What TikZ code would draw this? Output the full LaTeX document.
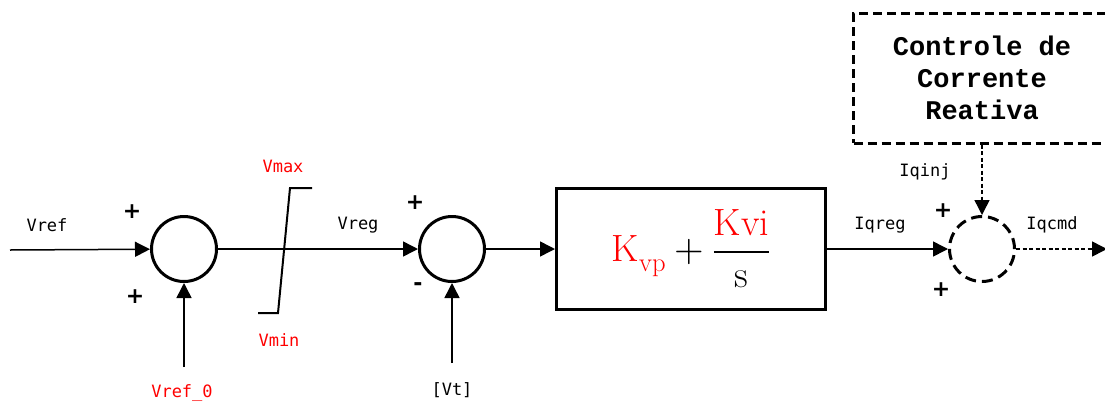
\documentclass[tikz,border=0pt]{standalone}
\usepackage{amsmath}
\usepackage{fontspec}
\usepackage{unicode-math}
\setmonofont{DejaVu Sans Mono}
\newfontfamily\ctlfont{Liberation Mono}
\newfontfamily\signfont{DejaVu Sans}
\usepackage{xcolor}
\usepackage{tikz}
\usetikzlibrary{arrows.meta,positioning,calc}
\definecolor{cRed}{HTML}{FF0000}
\definecolor{cInk}{HTML}{000000}
\tikzset{
  sumnode/.style={circle,draw=cInk,line width=3pt,minimum size=65pt,inner sep=0pt},
  pibox/.style={draw=cInk,line width=3pt,minimum width=269pt,minimum height=121pt,inner sep=0pt},
  ctlbox/.style={draw=cInk,line width=3pt,dash pattern=on 9pt off 5pt,minimum width=257pt,minimum height=130pt,align=center,font=\ctlfont\bfseries\fontsize{27}{32}\selectfont},
  arr/.style={-{Triangle[length=15pt,width=15pt]},line width=1.5pt,color=cInk},
  darr/.style={arr,dash pattern=on 4pt off 2.5pt},
  lbl/.style={font=\ttfamily\fontsize{17}{20}\selectfont,text=cInk,inner sep=0pt},
  rlbl/.style={lbl,text=cRed},
  sgn/.style={font=\signfont\bfseries\fontsize{22}{22}\selectfont,inner sep=0pt},
}

\begin{document}
\begin{tikzpicture}[x=1pt,y=-1pt]
  \useasboundingbox (0,0) rectangle (1105,405);
  % blocos
  \node[sumnode] (sum1) at (184,249) {};
  \node[sumnode] (sum2) at (452,249) {};
  \node[pibox,font=\fontsize{38}{44}\selectfont] (pi) at (691,249) {$\textcolor{cRed}{\mathrm{K}_{\mathrm{vp}}}+\dfrac{\textcolor{cRed}{\mathrm{Kvi}}}{\mathrm{s}}$};
  \node[sumnode,dash pattern=on 11pt off 6pt] (sum3) at (982,249) {};
  \node[ctlbox] (ctl) at (982,78) {Controle de\\Corrente\\Reativa};
  \coordinate (vin) at (10,250);
  \coordinate (v0) at (184,367);
  \coordinate (vt) at (452,363);
  \coordinate (iout) at (1107,249);
  % limitador
  \draw[cInk,line width=2pt] (258,313) -- (278,313) -- (290,188) -- (312,188);
  % ligacoes
  \draw[arr] (vin) -- (sum1);
  \draw[arr] (v0) -- (sum1);
  \draw[arr] (sum1) -- (sum2);
  \draw[arr] (vt) -- (sum2);
  \draw[arr] (sum2) -- (pi);
  \draw[arr] (pi) -- (sum3);
  \draw[darr] (ctl) -- (sum3);
  \draw[darr] (sum3) -- (iout);
  % textos
  \node[lbl] (lvref) at (47,225) {Vref};
  \node[rlbl] (lvref0) at (182,393) {Vref\_0};
  \node[rlbl] (lvmax) at (283,166) {Vmax};
  \node[rlbl] (lvmin) at (279,340) {Vmin};
  \node[lbl] (lvreg) at (358,225) {Vreg};
  \node[lbl] (lvt) at (452,390) {[Vt]};
  \node[lbl] (liqreg) at (880,225) {Iqreg};
  \node[lbl] (liqinj) at (925,172) {Iqinj};
  \node[lbl] (liqcmd) at (1052,225) {Iqcmd};
  \node[sgn] (p1) at (132,212) {+};
  \node[sgn] (p2) at (135,297) {+};
  \node[sgn] (p3) at (415,203) {+};
  \node[sgn] (m3) at (418,287) {-};
  \node[sgn] (p4) at (943,211) {+};
  \node[sgn] (p5) at (941,290) {+};
\end{tikzpicture}
\end{document}
